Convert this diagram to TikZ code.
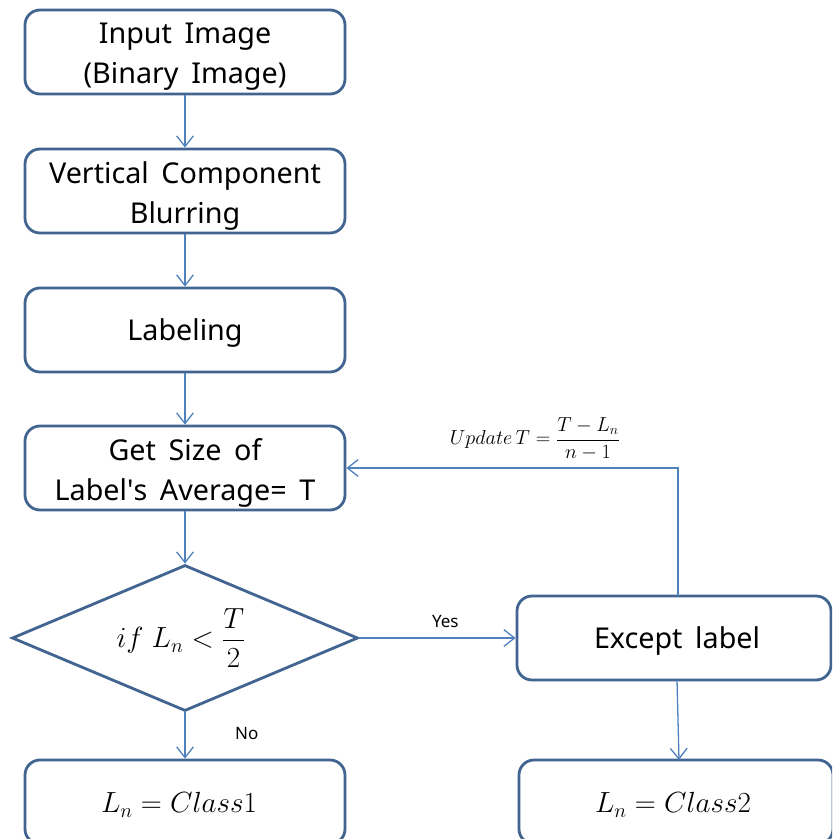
\documentclass[tikz,border=0pt]{standalone}
\usepackage{amsmath}
\usepackage{fontspec}
\setmainfont{Noto Sans}[WordSpace=1.7]
\usetikzlibrary{shapes.geometric,arrows.meta}
\definecolor{boxblue}{RGB}{65,100,145}
\definecolor{arrowblue}{RGB}{79,129,189}
\tikzset{
  procbox/.style={draw=boxblue, line width=2.4pt, rounded corners=0.45cm, minimum width=9.6cm, minimum height=2.52cm, inner sep=0pt},
  boxtext/.style={align=center, font=\fontsize{24.5}{34}\selectfont, inner sep=0pt},
  decbox/.style={draw=boxblue, line width=2.4pt, diamond, minimum width=10.38cm, minimum height=4.38cm, inner sep=0pt},
  flow/.style={draw=arrowblue, line width=1.1pt, -{Straight Barb[length=0.32cm,width=0.5cm,line width=1.1pt]}},
  lbl/.style={font=\fontsize{14.5}{16}\selectfont}
}
\begin{document}
\begin{tikzpicture}[x=0.03cm,y=-0.03cm]
\clip (0,0) rectangle (832,839);
\useasboundingbox (0,0) rectangle (832,839);
% boxes
\node[procbox] (inp) at (185,52) {};
\node[procbox] (vcb) at (185,191) {};
\node[procbox] (lab) at (185,330) {};
\node[procbox] (gs) at (185,468) {};
\node[decbox] (dec) at (185,638) {};
\node[procbox, minimum width=9.42cm] (exc) at (674,638) {};
\node[procbox] (c1) at (185,802) {};
\node[procbox, minimum width=9.42cm] (c2) at (676,802) {};
% texts
\node[boxtext] (inpt) at (185,57) {Input Image\\(Binary Image)};
\node[boxtext] (vcbt) at (185,196) {Vertical Component\\Blurring};
\node[boxtext] (labt) at (185,333) {Labeling};
\node[boxtext] (gst) at (185,473) {Get Size of\\Label\textquotesingle s Average= T};
\node[boxtext] (dect) at (181,638) {$if\;L_n < \dfrac{T}{2}$};
\node[boxtext] (exct) at (677,641) {Except label};
\node[boxtext, font=\fontsize{25.5}{34}\selectfont] (c1t) at (179,805) {$L_n = Class1$};
\node[boxtext, font=\fontsize{25.5}{34}\selectfont] (c2t) at (673,805) {$L_n = Class2$};
\node[font=\fontsize{17.5}{20}\selectfont] (upd) at (535,439) {$Update\,T = \dfrac{T-L_n}{n-1}$};
% connectors
\coordinate (up) at (678,468);
\coordinate (exs) at (677,680);
\coordinate (c2n) at (679,760);
\coordinate (exn) at (678,596);
\draw[flow] (inp) -- (vcb);
\draw[flow] (vcb) -- (lab);
\draw[flow] (lab) -- (gs);
\draw[flow] (gs) -- (dec);
\draw[flow] (dec) -- node[lbl, above=5pt, pos=0.55] {Yes} (exc);
\draw[flow] (dec) -- node[lbl, right=39pt, pos=0.45] {No} (c1);
\draw[flow] (exs) -- (c2n);
\draw[flow] (exn) -- (up) -- (gs.east);
\end{tikzpicture}
\end{document}
